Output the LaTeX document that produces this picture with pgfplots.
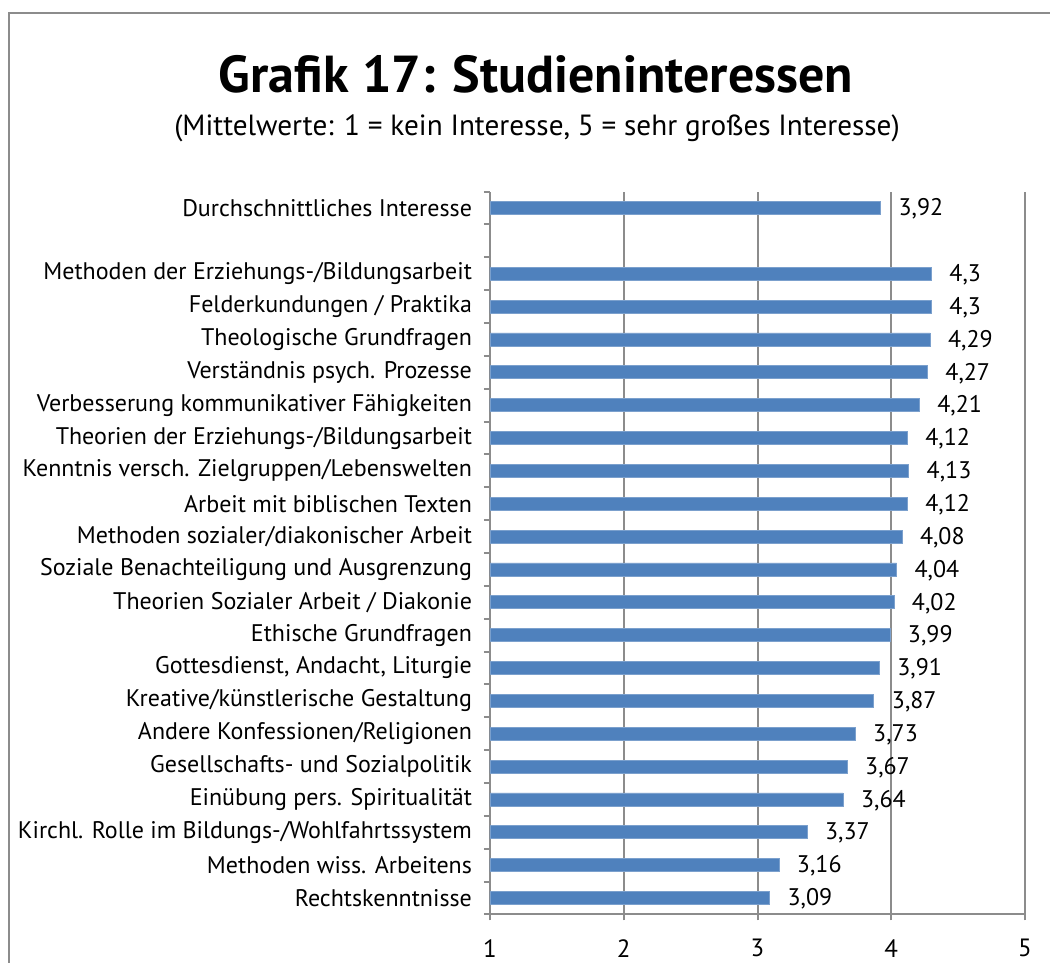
\documentclass[border=0pt]{standalone}
\usepackage{fontspec}
\setmainfont{PT Sans}
\usepackage{pgfplots}
\pgfplotsset{compat=1.18}
\definecolor{barblue}{HTML}{4F81BD}
\definecolor{gridgray}{HTML}{8C8C8C}

\begin{document}
\begin{tikzpicture}
\useasboundingbox (0,0) rectangle (525pt,-481.5pt);
% chart frame
\draw[gridgray, line width=1pt] (4.5pt,-481.5pt) -- (4.5pt,-6.5pt) -- (525pt,-6.5pt);
\node[font=\bfseries\fontsize{26}{30}\selectfont, anchor=base] at (268pt,-46.5pt) {Grafik 17: Studieninteressen};
\node[font=\fontsize{14.6}{17}\selectfont, anchor=base] at (268.5pt,-67.5pt) {(Mittelwerte: 1 = kein Interesse, 5 = sehr großes Interesse)};
\begin{axis}[
    at={(245pt,-457.2pt)}, anchor=south west,
    scale only axis, width=267.5pt, height=361.4pt,
    xmin=1, xmax=5, ymin=-0.5, ymax=21.5,
    axis lines*=left,
    axis line style={gridgray, line width=1pt},
    xtick={1,2,3,4,5},
    xmajorgrids, grid style={gridgray, line width=1pt},
    ytick={0,...,21},
    yticklabels={Rechtskenntnisse, Methoden wiss. Arbeitens,
        Kirchl. Rolle im Bildungs-/Wohlfahrtssystem,
        Einübung pers. Spiritualität, Gesellschafts- und Sozialpolitik,
        Andere Konfessionen/Religionen, Kreative/künstlerische Gestaltung,
        {Gottesdienst, Andacht, Liturgie}, Ethische Grundfragen,
        Theorien Sozialer Arbeit / Diakonie,
        Soziale Benachteiligung und Ausgrenzung,
        Methoden sozialer/diakonischer Arbeit, Arbeit mit biblischen Texten,
        Kenntnis versch. Zielgruppen/Lebenswelten,
        Theorien der Erziehungs-/Bildungsarbeit,
        Verbesserung kommunikativer Fähigkeiten, Verständnis psych. Prozesse,
        Theologische Grundfragen, Felderkundungen / Praktika,
        Methoden der Erziehungs-/Bildungsarbeit, {}, Durchschnittliches Interesse},
    minor ytick={-0.5,0.5,...,21.5},
    major tick length=3pt,
    minor tick length=3pt,
    tick align=outside,
    tick style={gridgray, line width=1pt},
    major y tick style={draw=none},
    ticklabel style={font=\fontsize{12}{14}\selectfont},
    yticklabel style={xshift=-2.5pt},
    xticklabel style={yshift=-6pt, font=\fontsize{12.5}{14}\selectfont},
    /pgf/number format/assume math mode=true,
    /pgf/number format/use comma,
    point meta=x,
    nodes near coords,
    every node near coord/.append style={anchor=west, xshift=5.5pt, yshift=-0.5pt,
        font=\fontsize{12}{14}\selectfont, text=black},
]
\addplot[xbar, bar width=6.5pt, fill=barblue, draw=barblue!75!white] coordinates {
    (3.09,0) (3.16,1) (3.37,2) (3.64,3) (3.67,4) (3.73,5) (3.87,6) (3.91,7)
    (3.99,8) (4.02,9) (4.04,10) (4.08,11) (4.12,12) (4.13,13) (4.12,14)
    (4.21,15) (4.27,16) (4.29,17) (4.3,18) (4.3,19) (3.92,21)
};
\end{axis}
\end{tikzpicture}
\end{document}
